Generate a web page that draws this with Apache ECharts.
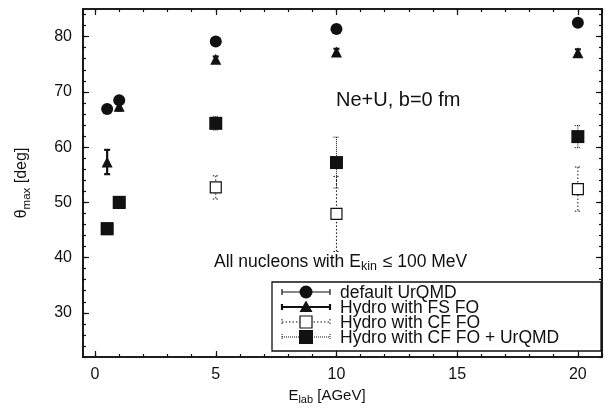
<!DOCTYPE html>
<html>
<head>
<meta charset="utf-8">
<script src="https://cdn.jsdelivr.net/npm/echarts@6/dist/echarts.min.js"></script>
<style>html,body{margin:0;padding:0;background:#fff}#main{width:605px;height:411px}</style>
</head>
<body>
<div id="main"></div>
<script>
// data
var energies = [0.5, 1, 5, 10, 20];
var urqmd = [66.9, 68.5, 79.1, 81.4, 82.5];
var urqmdErr = [0.3, 0.3, 0.3, 0.3, 0.3];
var fsfo = [57.3, 67.4, 75.9, 77.2, 77.1];
var fsfoErr = [2.2, 0.8, 0.5, 0.6, 0.6];
var cffo = [45.3, 49.9, 52.7, 47.9, 52.4];
var cffoErr = [0.3, 0.3, 2.1, 6.8, 4.0];
var cfu = [45.2, 50.0, 64.3, 57.2, 61.9];
var cfuErr = [0.4, 0.4, 1.2, 4.6, 2.0];

var xMajor = [0, 5, 10, 15, 20];
var xMinor = [0, 1, 2, 3, 4, 5, 6, 7, 8, 9, 10, 11, 12, 13, 14, 15, 16, 17, 18, 19, 20, 21];
var yMajor = [30, 40, 50, 60, 70, 80];
var yMinor = [22, 24, 26, 28, 30, 32, 34, 36, 38, 40, 42, 44, 46, 48, 50, 52, 54, 56, 58, 60, 62, 64, 66, 68, 70, 72, 74, 76, 78, 80, 82, 84];

var font = 'Liberation Sans, Arial, sans-serif';
var ink = '#111';

var myChart = echarts.init(document.getElementById('main'));

function pack(vals, errs) {
    return energies.map(function (x, i) { return [x, vals[i], errs[i]]; });
}

// 误差棒 custom series
function errorBars(vals, errs, dash, width, cap) {
    return {
        type: 'custom',
        silent: true,
        renderItem: function (params, api) {
            var x = api.value(0), y = api.value(1), e = api.value(2);
            var t = api.coord([x, y + e]);
            var b = api.coord([x, y - e]);
            var st = { stroke: ink, lineWidth: width, lineDash: dash, fill: null };
            return {
                type: 'group',
                children: [
                    { type: 'line', shape: { x1: t[0], y1: t[1], x2: b[0], y2: b[1] }, style: st },
                    { type: 'line', shape: { x1: t[0] - cap, y1: t[1], x2: t[0] + cap, y2: t[1] }, style: st },
                    { type: 'line', shape: { x1: b[0] - cap, y1: b[1], x2: b[0] + cap, y2: b[1] }, style: st }
                ]
            };
        },
        data: pack(vals, errs)
    };
}

function marks(vals, symbol, size, fill, border) {
    return {
        type: 'scatter',
        symbol: symbol,
        symbolSize: size,
        silent: true,
        itemStyle: { color: fill, borderColor: ink, borderWidth: border, opacity: 1 },
        data: energies.map(function (x, i) { return [x, vals[i]]; })
    };
}

function xAx(pos, ticks, len, labels) {
    return {
        type: 'value', position: pos, min: -0.5, max: 21,
        axisLine: { show: true, onZero: false, lineStyle: { color: ink, width: 1.6 } },
        axisTick: { show: true, inside: true, length: len, customValues: ticks, lineStyle: { color: ink, width: 1.2 } },
        axisLabel: labels ? { show: true, customValues: xMajor, margin: 10, color: ink, fontSize: 16, fontFamily: font } : { show: false },
        splitLine: { show: false }
    };
}
function yAx(pos, ticks, len, labels) {
    return {
        type: 'value', position: pos, min: 22, max: 85,
        axisLine: { show: true, onZero: false, lineStyle: { color: ink, width: 1.6 } },
        axisTick: { show: true, inside: true, length: len, customValues: ticks, lineStyle: { color: ink, width: 1.2 } },
        axisLabel: labels ? { show: true, customValues: yMajor, margin: 11, color: ink, fontSize: 16, fontFamily: font } : { show: false },
        splitLine: { show: false }
    };
}

var legendItems = [
    { name: 'default UrQMD', y: 292, dash: null, w: 1.2, sym: 'circle' },
    { name: 'Hydro with FS FO', y: 307, dash: null, w: 2.2, sym: 'triangle' },
    { name: 'Hydro with CF FO', y: 322, dash: [1.5, 2], w: 1, sym: 'open' },
    { name: 'Hydro with CF FO + UrQMD', y: 337, dash: [1, 1], w: 1, sym: 'square' }
];

var graphics = [
    { type: 'rect', shape: { x: 272, y: 282, width: 329, height: 69 }, style: { fill: '#fff', stroke: ink, lineWidth: 1.3 }, z: 50 }
];
legendItems.forEach(function (it) {
    var st = { stroke: ink, lineWidth: it.w, lineDash: it.dash };
    graphics.push({ type: 'line', shape: { x1: 282, y1: it.y, x2: 330, y2: it.y }, style: st, z: 51 });
    graphics.push({ type: 'line', shape: { x1: 282, y1: it.y - 3, x2: 282, y2: it.y + 3 }, style: st, z: 51 });
    graphics.push({ type: 'line', shape: { x1: 330, y1: it.y - 3, x2: 330, y2: it.y + 3 }, style: st, z: 51 });
    var m;
    if (it.sym === 'circle') m = { type: 'circle', shape: { cx: 306, cy: it.y, r: 6.5 }, style: { fill: ink } };
    else if (it.sym === 'triangle') m = { type: 'polygon', shape: { points: [[306, it.y - 6.5], [299.5, it.y + 5], [312.5, it.y + 5]] }, style: { fill: ink } };
    else if (it.sym === 'open') m = { type: 'rect', shape: { x: 300, y: it.y - 6, width: 12, height: 12 }, style: { fill: '#fff', stroke: ink, lineWidth: 1.2 } };
    else m = { type: 'rect', shape: { x: 299, y: it.y - 7, width: 14, height: 14 }, style: { fill: ink } };
    m.z = 52;
    graphics.push(m);
    graphics.push({ type: 'text', x: 340, y: it.y + 1, style: { text: it.name, fill: ink, font: '17.5px ' + font, textVerticalAlign: 'middle' }, z: 52 });
});

graphics.push({ type: 'text', x: 336, y: 100, style: { text: 'Ne+U, b=0 fm', fill: ink, font: '20px ' + font, textVerticalAlign: 'middle' } });
graphics.push({
    type: 'text', x: 214, y: 262,
    style: {
        text: '{a|All nucleons with E}{s|kin}{a| ≤ 100 MeV}', verticalAlign: 'middle',
        rich: {
            a: { fontSize: 17.5, fontFamily: font, fill: ink, color: ink },
            s: { fontSize: 12.5, fontFamily: font, fill: ink, color: ink, padding: [10, 1, 0, 0] }
        }
    }
});
graphics.push({
    type: 'text', x: 327, y: 396,
    style: {
        text: '{a|E}{s|lab}{a| [AGeV]}', align: 'center', verticalAlign: 'middle',
        rich: {
            a: { fontSize: 15, fontFamily: font, fill: ink, color: ink },
            s: { fontSize: 11, fontFamily: font, fill: ink, color: ink, padding: [8, 0, 0, 0] }
        }
    }
});
graphics.push({
    type: 'text', x: 22, y: 183, rotation: Math.PI / 2,
    style: {
        text: '{a|θ}{s|max}{a| [deg]}', align: 'center', verticalAlign: 'middle',
        rich: {
            a: { fontSize: 16, fontFamily: font, fill: ink, color: ink },
            s: { fontSize: 11.5, fontFamily: font, fill: ink, color: ink, padding: [9, 0, 0, 0] }
        }
    }
});

var option = {
    animation: false,
    backgroundColor: '#fff',
    grid: { left: 83, right: 3, top: 9, bottom: 54 },
    xAxis: [
        xAx('bottom', xMajor, 6, true),
        xAx('bottom', xMinor, 3, false),
        xAx('top', xMajor, 6, false),
        xAx('top', xMinor, 3, false)
    ],
    yAxis: [
        yAx('left', yMajor, 6, true),
        yAx('left', yMinor, 3, false),
        yAx('right', yMajor, 6, false),
        yAx('right', yMinor, 3, false)
    ],
    graphic: graphics,
    series: [
        errorBars(cffo, cffoErr, [1.5, 2], 1, 3),
        marks(cffo, 'rect', 11, '#fff', 1.2),
        errorBars(cfu, cfuErr, [1, 1], 1, 3),
        marks(cfu, 'rect', 13, ink, 0),
        errorBars(fsfo, fsfoErr, null, 2.2, 3),
        marks(fsfo, 'triangle', 11, ink, 0),
        errorBars(urqmd, urqmdErr, null, 1.2, 3),
        marks(urqmd, 'circle', 12, ink, 0)
    ]
};

myChart.setOption(option);
</script>
</body>
</html>
